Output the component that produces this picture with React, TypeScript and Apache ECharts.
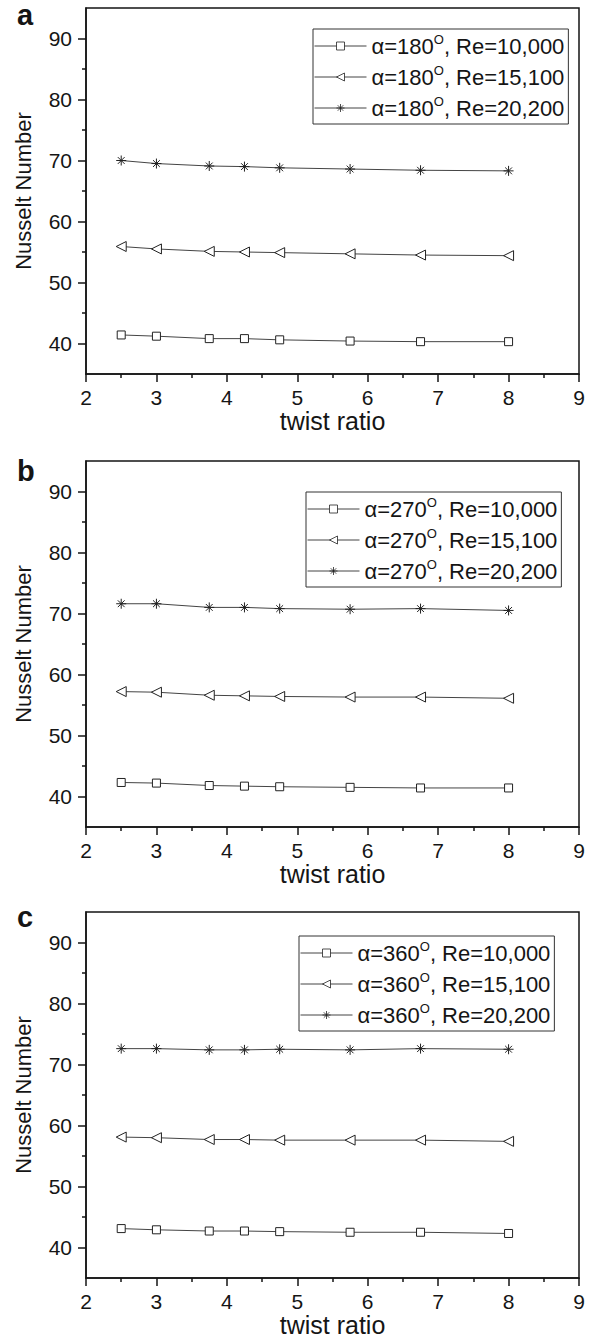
import React, { useEffect, useRef } from 'react';
import * as echarts from 'echarts';

// ---- data ----
const twistRatio = [2.5, 3, 3.75, 4.25, 4.75, 5.75, 6.75, 8];
const panelLetters = ['a', 'b', 'c'];
const angles = ['180', '270', '360'];
const reynolds = ['10,000', '15,100', '20,200'];

const nuA_Re10000 = [41.4, 41.2, 40.8, 40.8, 40.6, 40.4, 40.3, 40.3];
const nuA_Re15100 = [55.9, 55.5, 55.1, 55.0, 54.9, 54.7, 54.5, 54.4];
const nuA_Re20200 = [70.0, 69.5, 69.1, 69.0, 68.8, 68.6, 68.4, 68.3];

const nuB_Re10000 = [42.3, 42.2, 41.8, 41.7, 41.6, 41.5, 41.4, 41.4];
const nuB_Re15100 = [57.2, 57.1, 56.6, 56.5, 56.4, 56.3, 56.3, 56.1];
const nuB_Re20200 = [71.6, 71.6, 71.0, 71.0, 70.8, 70.7, 70.8, 70.5];

const nuC_Re10000 = [43.1, 42.9, 42.7, 42.7, 42.6, 42.5, 42.5, 42.3];
const nuC_Re15100 = [58.1, 58.0, 57.7, 57.7, 57.6, 57.6, 57.6, 57.4];
const nuC_Re20200 = [72.6, 72.6, 72.4, 72.4, 72.5, 72.4, 72.6, 72.5];

const panelData = [
  [nuA_Re10000, nuA_Re15100, nuA_Re20200],
  [nuB_Re10000, nuB_Re15100, nuB_Re20200],
  [nuC_Re10000, nuC_Re15100, nuC_Re20200],
];

const yMajorTicks = [40, 50, 60, 70, 80, 90];
const yMinorTicks = [45, 55, 65, 75, 85];
const xMin = 2;
const xMax = 9;
const yMin = 35;
const yMax = 95;

// ---- styling ----
const FONT = '"Liberation Sans", Arial, Helvetica, sans-serif';
const INK = '#151515';
const LINE = '#444';
const gridTops = [8, 461, 912];
const gridLeft = 86;
const gridWidth = 493;
const gridHeight = 366;
const legendPos = [
  { left: 313, top: 29 },
  { left: 306, top: 492 },
  { left: 299, top: 936 },
];
const letterTops = [0, 456, 902];

const ASTERISK = 'path://M5,0L5,10M0,5L10,5M1.6,1.6L8.4,8.4M8.4,1.6L1.6,8.4';
const markerSymbols = ['rect', 'triangle', ASTERISK];
const markerSizes = [8, 10, 10];
const markerRotate = [0, 90, 0];

export default function App() {
  const ref = useRef<HTMLDivElement>(null);

  useEffect(() => {
    if (!ref.current) return;
    const chart = echarts.init(ref.current, null, { renderer: 'svg' });

    const nameInfo: Record<string, { angle: string; re: string }> = {};
    const grids: any[] = [];
    const xAxes: any[] = [];
    const yAxes: any[] = [];
    const series: any[] = [];
    const legends: any[] = [];
    const graphics: any[] = [];

    panelLetters.forEach((letter, p) => {
      grids.push({
        left: gridLeft,
        top: gridTops[p],
        width: gridWidth,
        height: gridHeight,
        show: true,
        borderColor: INK,
        borderWidth: 1.5,
        backgroundColor: 'transparent',
      });
      xAxes.push({
        gridIndex: p,
        type: 'value',
        min: xMin,
        max: xMax,
        interval: 1,
        axisLine: { show: true, onZero: false, lineStyle: { color: INK, width: 1.5 } },
        axisTick: { show: true, inside: false, length: 8, lineStyle: { color: INK, width: 1.5 } },
        minorTick: { show: true, splitNumber: 2, length: 4, lineStyle: { color: INK, width: 1.5 } },
        splitLine: { show: false },
        minorSplitLine: { show: false },
        axisLabel: { color: INK, fontSize: 21, fontFamily: FONT, margin: 13 },
        name: 'twist ratio',
        nameLocation: 'middle',
        nameGap: 33,
        nameTextStyle: { color: INK, fontSize: 25, fontFamily: FONT },
      });
      yAxes.push({
        gridIndex: p,
        type: 'value',
        min: yMin,
        max: yMax,
        position: 'left',
        axisLine: { show: true, onZero: false, lineStyle: { color: INK, width: 1.5 } },
        axisTick: {
          show: true,
          inside: false,
          length: 8,
          customValues: yMajorTicks,
          lineStyle: { color: INK, width: 1.5 },
        },
        axisLabel: {
          color: INK,
          fontSize: 21,
          fontFamily: FONT,
          margin: 14,
          customValues: yMajorTicks,
        },
        splitLine: { show: false },
        name: 'Nusselt Number',
        nameLocation: 'middle',
        nameGap: 52,
        nameTextStyle: { color: INK, fontSize: 22, fontFamily: FONT },
      });
      yAxes.push({
        gridIndex: p,
        type: 'value',
        min: yMin,
        max: yMax,
        position: 'left',
        axisLine: { show: false },
        axisTick: {
          show: true,
          inside: false,
          length: 4,
          customValues: yMinorTicks,
          lineStyle: { color: INK, width: 1.5 },
        },
        axisLabel: { show: false },
        splitLine: { show: false },
      });

      const names: string[] = [];
      reynolds.forEach((re, s) => {
        const name = `α=${angles[p]}°, Re=${re}`;
        nameInfo[name] = { angle: angles[p], re };
        names.push(name);
        series.push({
          type: 'line',
          name,
          xAxisIndex: p,
          yAxisIndex: 2 * p,
          data: twistRatio.map((x, i) => [x, panelData[p][s][i]]),
          symbol: markerSymbols[s],
          symbolSize: markerSizes[s],
          symbolRotate: markerRotate[s],
          showAllSymbol: true,
          lineStyle: { color: LINE, width: 1 },
          itemStyle: { color: '#fff', borderColor: '#222', borderWidth: 1 },
          emphasis: { disabled: true },
          z: 3,
        });
      });

      legends.push({
        data: names,
        orient: 'vertical',
        align: 'left',
        left: legendPos[p].left,
        top: legendPos[p].top,
        padding: [4, 4, 5, 1],
        itemGap: 7,
        itemWidth: 52,
        itemHeight: 10,
        borderColor: '#333',
        borderWidth: 1,
        backgroundColor: '#fff',
        selectedMode: false,
        itemStyle: { color: '#fff', borderColor: '#222', borderWidth: 0.8 },
        lineStyle: { color: LINE, width: 1 },
        formatter: (n: string) => {
          const info = nameInfo[n];
          return `{t|α=${info.angle}}{s|O}{t|, Re=${info.re}}`;
        },
        textStyle: {
          color: INK,
          fontFamily: FONT,
          fontSize: 22,
          rich: {
            t: { fontSize: 22, fontFamily: FONT, color: INK, lineHeight: 26 },
            s: { fontSize: 13, fontFamily: FONT, color: INK, verticalAlign: 'top' },
          },
        },
      });

      graphics.push({
        type: 'text',
        left: 17,
        top: letterTops[p],
        style: {
          text: letter,
          font: `bold 29px ${FONT}`,
          fill: INK,
        },
      });
    });

    chart.setOption({
      animation: false,
      backgroundColor: '#fff',
      grid: grids,
      xAxis: xAxes,
      yAxis: yAxes,
      legend: legends,
      series,
      graphic: graphics,
    });

    return () => chart.dispose();
  }, []);

  return (
    <div
      ref={ref}
      style={{ position: 'absolute', left: 0, top: 0, width: 593, height: 1343 }}
    />
  );
}
